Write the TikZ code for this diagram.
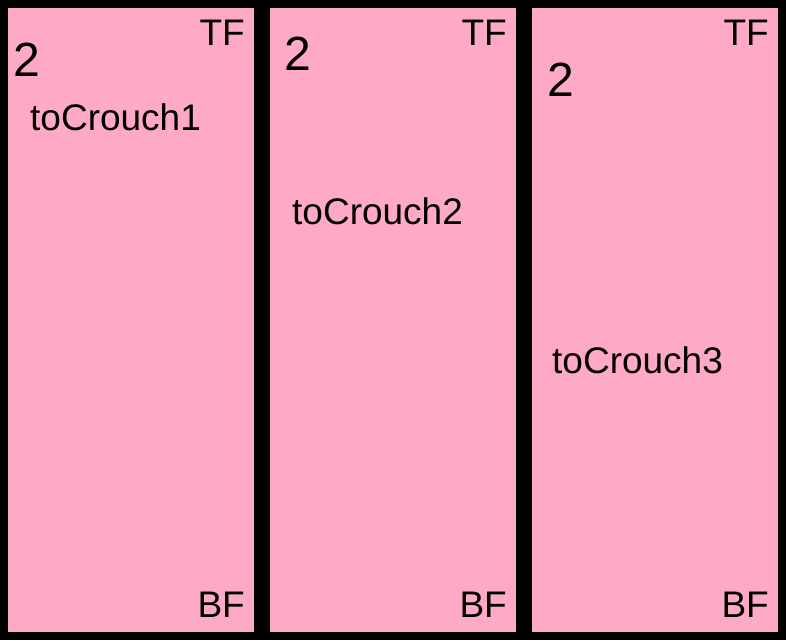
\documentclass[tikz,border=0pt]{standalone}
\usepackage{fontspec}
\setmainfont{Liberation Sans}
\usepackage{tikz}
\usetikzlibrary{positioning}
\definecolor{crouchpink}{RGB}{255,170,197}

\begin{document}
\begin{tikzpicture}[
      x=1pt, y=-1pt,
      panel/.style={fill=crouchpink, draw=none, minimum width=246pt,
                    minimum height=624pt, anchor=north west, inner sep=0pt},
      count/.style={anchor=base west, inner sep=0pt,
                    font=\fontsize{48}{48}\selectfont},
      state/.style={anchor=base west, inner sep=0pt,
                    font=\fontsize{37}{37}\selectfont},
      corner/.style={anchor=base east, inner sep=0pt,
                     font=\fontsize{37}{37}\selectfont},
    ]

    % Fondo
    \fill[black] (0,0) rectangle (786,640);
    \useasboundingbox (0,0) rectangle (786,640);

    % Paneles
    \node[panel] (panel1) at (8,8)   {};
    \node[panel] (panel2) at (270,8) {};
    \node[panel] (panel3) at (532,8) {};

    % Contadores
    \node[count] (count1) at (13,76)  {2};
    \node[count] (count2) at (284,70) {2};
    \node[count] (count3) at (547,96) {2};

    % Estados
    \node[state] (crouch1) at (30,130)  {toCrouch1};
    \node[state] (crouch2) at (292,224) {toCrouch2};
    \node[state] (crouch3) at (552,373) {toCrouch3};

    % Marcas TF / BF
    \node[corner] (tf1) at (245,45) {TF};
    \node[corner] (tf2) at (507,45) {TF};
    \node[corner] (tf3) at (769,45) {TF};
    \node[corner] (bf1) at (245,617) {BF};
    \node[corner] (bf2) at (507,617) {BF};
    \node[corner] (bf3) at (769,617) {BF};

  \end{tikzpicture}
\end{document}
